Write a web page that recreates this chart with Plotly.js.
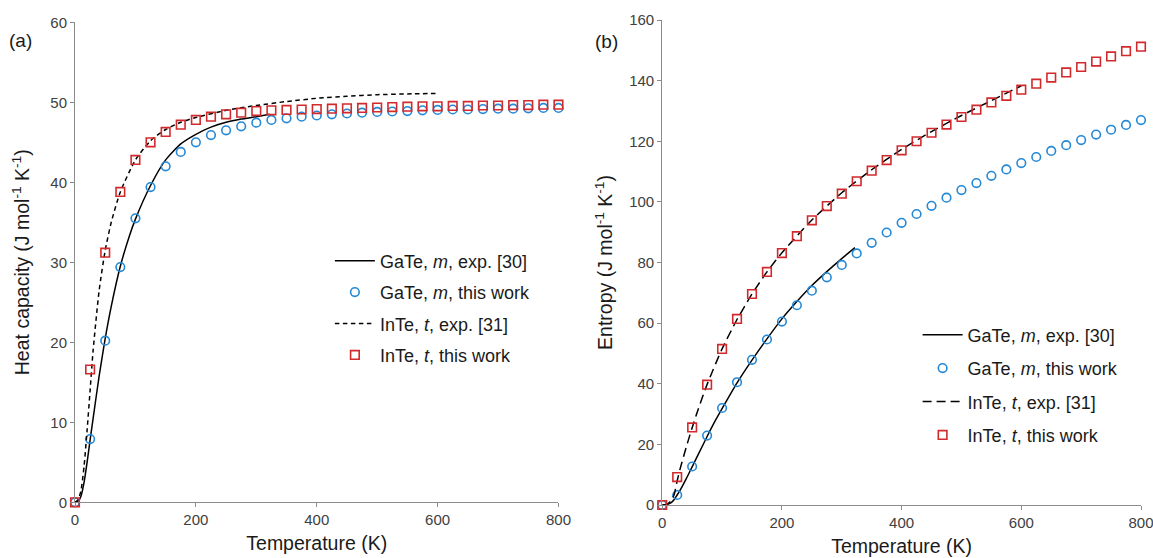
<!DOCTYPE html>
<html>
<head>
<meta charset="utf-8">
<script src="https://cdn.plot.ly/plotly-3.0.1.min.js"></script>
<style>html,body{margin:0;padding:0;background:#fff;}#chart{width:1153px;height:558px;}</style>
</head>
<body>
<div id="chart"></div>
<script>
// ---------- data ----------
// calculated points (this work), every 25 K
var T_calc = [0,25,50,75,100,125,150,175,200,225,250,275,300,325,350,375,400,425,450,475,500,525,550,575,600,625,650,675,700,725,750,775,800];
var Cp_GaTe_calc = [0,7.9,20.2,29.4,35.5,39.4,42.0,43.8,45.0,45.9,46.5,47.0,47.45,47.8,48.0,48.2,48.35,48.5,48.6,48.7,48.8,48.85,48.9,49.0,49.05,49.1,49.1,49.15,49.2,49.2,49.25,49.3,49.3];
var Cp_InTe_calc = [0,16.6,31.2,38.8,42.8,45.0,46.3,47.2,47.8,48.2,48.5,48.7,48.9,49.0,49.05,49.1,49.15,49.2,49.25,49.3,49.35,49.4,49.45,49.5,49.5,49.55,49.55,49.6,49.6,49.65,49.65,49.7,49.7];
var S_GaTe_calc = [0,3.3,12.7,22.9,32.0,40.5,47.9,54.6,60.5,65.9,70.7,75.1,79.2,83.0,86.5,89.9,93.1,96.0,98.7,101.4,103.9,106.2,108.6,110.7,112.8,114.8,116.8,118.7,120.4,122.2,123.8,125.4,127.0];
var S_InTe_calc = [0,9.2,25.6,39.7,51.5,61.4,69.6,76.9,83.1,88.7,93.9,98.6,102.7,106.8,110.3,113.8,117.0,120.0,122.8,125.5,128.0,130.4,132.8,135.0,137.0,139.0,141.0,142.7,144.5,146.3,148.0,149.7,151.2];

// experimental curves
var T_GaTe_exp = [0,5,10,15,20,25,30,40,50,60,75,90,100,125,150,175,200,225,250,275,300,322];
var Cp_GaTe_exp = [0,0.1,0.8,2.5,5.0,7.8,10.5,15.8,20.5,24.5,29.5,33.3,35.4,39.6,42.8,44.8,46.0,46.9,47.5,47.9,48.2,48.5];
var S_GaTe_exp  = [0,0.05,0.3,0.8,1.8,3.3,4.9,8.6,12.6,16.6,22.6,28.3,31.8,40.3,47.8,54.8,61.4,67.1,72.4,77.0,81.3,84.9];

var T_InTe_exp = [0,5,10,15,20,25,30,40,50,60,75,100,125,150,175,200,250,300,350,400,450,500,550,600];
var Cp_InTe_exp = [0,0.3,1.5,4.5,9.0,14.0,19.0,26.5,31.5,35.0,38.8,42.8,45.2,46.6,47.5,48.1,49.0,49.6,50.1,50.5,50.75,50.95,51.05,51.1];
var S_InTe_exp  = [0,0.1,0.5,1.5,3.5,8.0,12.0,19.0,25.5,31.5,39.8,51.5,61.2,69.6,76.9,83.2,94.0,103.0,110.6,117.3,123.2,128.5,133.4,138.3];

var legendNames = ['GaTe, <i>m</i>, exp. [30]','GaTe, <i>m</i>, this work','InTe, <i>t</i>, exp. [31]','InTe, <i>t</i>, this work'];
var xTickVals = [0,200,400,600,800];
var xTitle = 'Temperature (K)';
var yTitleA = 'Heat capacity (J mol<sup>-1</sup> K<sup>-1</sup>)';
var yTitleB = 'Entropy (J mol<sup>-1</sup> K<sup>-1</sup>)';

// ---------- layout helpers (pixel -> paper) ----------
var W = 1153, H = 558, ML = 75, MR = 11.5, MT = 20, MB = 53;
var PW = W - ML - MR, PH = H - MT - MB;
function px2x(px){ return (px - ML) / PW; }
function px2y(py){ return (H - MB - py) / PH; }

var BLUE = '#2589d6', RED = '#d22a2c', FONT = 'Liberation Sans, Arial, sans-serif';

function lineTrace(x, y, name, dash, xa, ya, leg, grp){
  return {x:x, y:y, name:name, type:'scatter', mode:'lines', xaxis:xa, yaxis:ya, legend:leg, legendgroup:grp,
          line:{color:'#000', width:1.5, dash:dash, shape:'spline', smoothing:0.6}, cliponaxis:false, hoverinfo:'skip'};
}
function markTrace(x, y, name, sym, col, xa, ya, leg, grp){
  return {x:x, y:y, name:name, type:'scatter', mode:'markers', xaxis:xa, yaxis:ya, legend:leg, legendgroup:grp,
          marker:{symbol:sym, size:8.6, color:col, line:{color:col, width:1.6}}, cliponaxis:false};
}

var data = [
  lineTrace(T_GaTe_exp, Cp_GaTe_exp, legendNames[0], 'solid', 'x', 'y', 'legend', 'a1'),
  markTrace(T_calc, Cp_GaTe_calc, legendNames[1], 'circle-open', BLUE, 'x', 'y', 'legend', 'a2'),
  lineTrace(T_InTe_exp, Cp_InTe_exp, legendNames[2], '4.5px,3.5px', 'x', 'y', 'legend', 'a3'),
  markTrace(T_calc, Cp_InTe_calc, legendNames[3], 'square-open', RED, 'x', 'y', 'legend', 'a4'),
  lineTrace(T_GaTe_exp, S_GaTe_exp, legendNames[0], 'solid', 'x2', 'y2', 'legend2', 'b1'),
  markTrace(T_calc, S_GaTe_calc, legendNames[1], 'circle-open', BLUE, 'x2', 'y2', 'legend2', 'b2'),
  lineTrace(T_InTe_exp, S_InTe_exp, legendNames[2], '9px,5px', 'x2', 'y2', 'legend2', 'b3'),
  markTrace(T_calc, S_InTe_calc, legendNames[3], 'square-open', RED, 'x2', 'y2', 'legend2', 'b4')
];

function xAxis(dom, anchor){
  return {domain:dom, anchor:anchor, range:[0,800], tickvals:xTickVals, showgrid:false, zeroline:false,
          showline:true, linecolor:'#8c8c8c', linewidth:1, ticks:'outside', ticklen:4, tickcolor:'#8c8c8c',
          ticklabeloverflow:'allow',
          tickfont:{family:FONT, size:15, color:'#404040'},
          title:{text:xTitle, font:{family:FONT, size:19.5, color:'#1a1a1a'}, standoff:9}};
}
function yAxis(dom, anchor, range, dt, title, so){
  return {domain:dom, anchor:anchor, range:range, dtick:dt, tick0:0, showgrid:false, zeroline:false,
          showline:true, linecolor:'#8c8c8c', linewidth:1, ticks:'outside', ticklen:4, tickcolor:'#8c8c8c',
          tickfont:{family:FONT, size:15, color:'#404040'},
          title:{text:title, font:{family:FONT, size:19.5, color:'#1a1a1a'}, standoff:so}};
}

var layout = {
  width:W, height:H, margin:{l:ML, r:MR, t:MT, b:MB, pad:0},
  paper_bgcolor:'#fff', plot_bgcolor:'#fff', font:{family:FONT, color:'#1a1a1a'},
  showlegend:true,
  xaxis: xAxis([0, px2x(558.7)], 'y'),
  yaxis: yAxis([px2y(502.3), px2y(22.3)], 'x', [0,60], 10, yTitleA, 15),
  xaxis2: xAxis([px2x(662.5), 1], 'y2'),
  yaxis2: yAxis([px2y(505), px2y(20)], 'x2', [0,160], 20, yTitleB, 11),
  legend: {x:px2x(330), y:px2y(242.5), xanchor:'left', yanchor:'top', bgcolor:'rgba(0,0,0,0)', itemwidth:40,
           font:{family:FONT, size:18, color:'#1a1a1a'}, traceorder:'grouped', tracegroupgap:5},
  legend2: {x:px2x(918), y:px2y(316.5), xanchor:'left', yanchor:'top', bgcolor:'rgba(0,0,0,0)', itemwidth:40,
           font:{family:FONT, size:18, color:'#1a1a1a'}, traceorder:'grouped', tracegroupgap:7},
  annotations:[
    {text:'(a)', xref:'paper', yref:'paper', x:px2x(20), y:px2y(41), xanchor:'center', yanchor:'middle', showarrow:false,
     font:{family:FONT, size:19, color:'#1a1a1a'}},
    {text:'(b)', xref:'paper', yref:'paper', x:px2x(607), y:px2y(42), xanchor:'center', yanchor:'middle', showarrow:false,
     font:{family:FONT, size:19, color:'#1a1a1a'}}
  ]
};

Plotly.newPlot('chart', data, layout, {staticPlot:true, displayModeBar:false});
</script>
</body>
</html>
